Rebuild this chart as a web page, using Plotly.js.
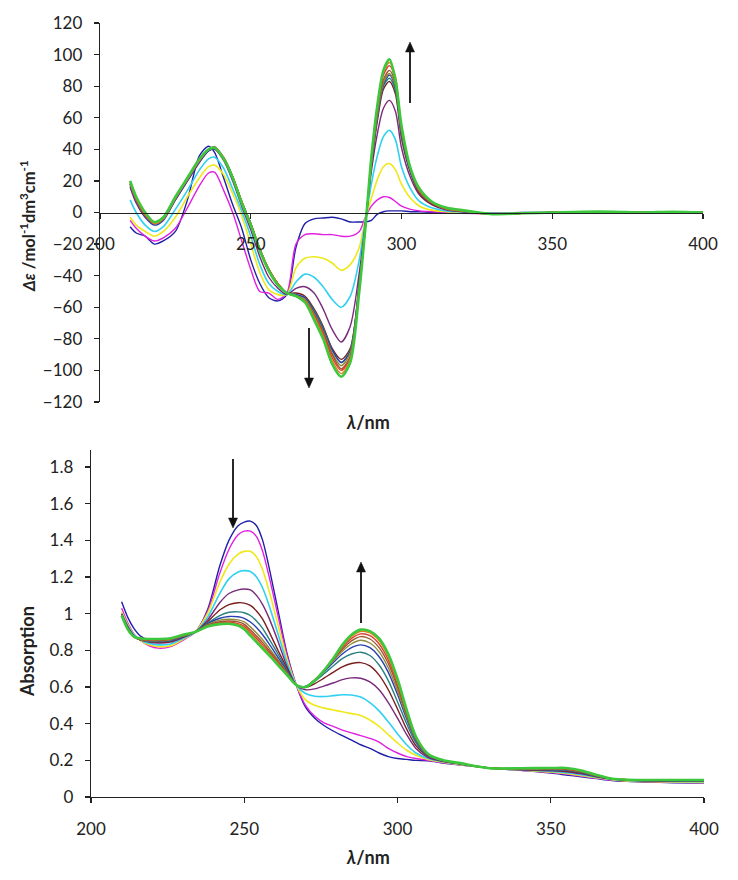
<!DOCTYPE html>
<html>
<head>
<meta charset="utf-8">
<script src="https://cdn.plot.ly/plotly-3.0.1.min.js"></script>
<style>html,body{margin:0;padding:0;background:#fff;}#chart{width:738px;height:880px;}</style>
</head>
<body>
<div id="chart"></div>
<script>
// ---------- CD spectra (top panel) ----------
const cdWavelength = [210,212,215,218,221,225,229,233,236,238,241,244,247,250,253,256,259,262,265,268,271,274,277,280,283,286,288,290,292,294,296,298,300,303,306,310,315,320,330,340,350,360,370,380,390,400];
const cdS1  = [-9,-13,-15,-20,-18,-12,8,36,42,38,22,5,-10,-30,-45,-54,-56,-52,-22,-7,-4,-3.5,-3,-4,-6,-6,-6,-5,-1,0.5,1,1,1,0.5,0.5,0,0,0,-0.5,0,0,0,0,0,0,0];
const cdS2  = [-5,-10,-15,-18,-16,-10,3,17,25,25.5,14,0,-18,-36,-50,-51,-55,-51,-20,-14,-13.5,-14,-14,-15,-15,-12,-3,4,8,10,9.5,7,4,2,1,0.5,0,-0.5,-0.8,-0.3,0,0.3,0.3,0,0.3,0];
const cdS3  = [-3,-8,-12,-15,-12,-3,10,22,29,30,24,12,-2,-20,-38,-49,-52,-52,-35,-29,-28,-29,-32,-36.5,-33,-22,-4,9,21,29,31,27,18,9,4,1.5,0.5,0,-0.8,-0.3,0,0.3,0.3,0,0.3,0];
const cdS4  = [8,0,-8,-12,-9,2,14,27,34,35,28,15,1,-15,-33,-45,-50,-52,-44,-39,-41,-47,-55,-60,-53,-30,-5,18,36,48,52,46,29,15,7,3,1,0.3,-0.8,-0.3,0,0.3,0.3,0,0.3,0];
const cdS5  = [16,6,-3,-7,-4,8,20,32,39,40,33,20,4,-11,-28,-41,-48,-52,-48,-47,-51,-61,-74,-82,-72,-38,-7,26,50,66,71,64,41,22,11,5,1.5,0.5,-1,-0.5,0,0.3,0.3,0,0.3,0];
const cdS6  = [18,8,-2,-7,-4,9,21,33,40,41.5,34.5,22.5,7,-7,-23,-36,-45,-51,-51,-53,-61,-72,-86,-93,-86,-44,-8,29,58,78,83,75,47,25,12,5.5,2,1,-1,-0.5,0,0.3,0.3,0,0.3,0];
const cdS7  = [18,8,-2,-7,-4,9,21,33,40,41,34.5,22.5,7,-7,-23,-36,-45,-51,-52,-54,-62,-73,-87,-95,-87,-45,-9,30,60,80,85,77,49,26,13,6,2,1,-1,-0.5,0,0.3,0.3,0,0.3,0];
const cdS8  = [17,7,-3,-8,-5,8,20,32,39,40.5,34,22,6.5,-7.5,-24,-37,-46,-51,-52,-54,-63,-74,-87,-95,-88,-45,-9,31,61,81,87,79,50,26,13,6,2,1,-1,-0.5,0,0.3,0.3,0,0.3,0];
const cdS9  = [18,8,-2,-7,-4,9,21,33,40,41,34.5,22.5,7,-7,-23,-36,-45,-51,-52.5,-55,-64,-75,-89,-97,-89,-46,-9,31,62,82,88,80,51,27,13,6,2,1,-1,-0.5,0,0.3,0.3,0,0.3,0];
const cdS10 = [19,9,-1,-7,-4,9,21,33,40,41.5,35,23,7,-7,-23,-36,-45,-51,-53,-56,-65,-76,-90,-99,-91,-47,-9,32,64,84,90,82,52,27,13,6,2.5,1,-1,-0.5,0,0.3,0.3,0,0.3,0];
const cdS11 = [18,8,-2,-7,-4,9,21,33,40,41,34.5,22.5,7,-7,-23,-36,-45,-51,-53,-56,-65,-77,-92,-100,-92,-48,-10,33,66,87,93,84,53,28,14,6.5,2.5,1,-1,-0.5,0,0.3,0.3,0,0.3,0];
const cdS12 = [19,9,-1,-7,-4,9,21,33,40,41,34.5,22.5,7,-7,-23,-36,-45,-51,-53,-56,-66,-78,-94,-102,-93,-49,-10,34,68,89,95,86,54,28,14,6.5,2.5,1,-1,-0.5,0,0.5,0.3,0,0.3,0];
const cdS13 = [20,10,0,-6,-3,10,22,34,40,41,34,22,6,-8,-24,-37,-46,-51,-53,-57,-68,-80,-96,-104,-95,-50,-10,35,68,90,97,84,55,28,15,7,3,1.5,-1,-0.5,0,0.5,0.5,0,0.5,0];

// ---------- Absorption spectra (bottom panel) ----------
const absWavelength = [210,212,214,216,219,222,226,230,234,238,242,245,248,250,252,254,256,258,261,264,267,270,273,276,279,282,285,288,291,294,297,300,303,306,310,315,320,330,340,350,355,360,365,370,375,380,390,400];
const absS1  = [1.065,0.98,0.92,0.88,0.855,0.845,0.85,0.87,0.90,1.02,1.26,1.40,1.48,1.50,1.505,1.48,1.40,1.26,1.02,0.78,0.61,0.49,0.43,0.39,0.36,0.335,0.31,0.285,0.265,0.24,0.22,0.21,0.205,0.2,0.198,0.185,0.175,0.158,0.145,0.13,0.12,0.11,0.1,0.09,0.085,0.082,0.078,0.076];
const absS2  = [1.03,0.95,0.89,0.855,0.825,0.812,0.82,0.855,0.90,1.01,1.22,1.35,1.43,1.45,1.45,1.42,1.34,1.21,0.99,0.77,0.61,0.5,0.44,0.405,0.385,0.365,0.35,0.335,0.32,0.30,0.265,0.24,0.22,0.21,0.2,0.186,0.176,0.158,0.146,0.133,0.125,0.114,0.102,0.093,0.087,0.084,0.08,0.078];
const absS3  = [1.01,0.94,0.885,0.855,0.83,0.82,0.825,0.86,0.90,1.0,1.17,1.27,1.325,1.34,1.34,1.31,1.24,1.13,0.94,0.75,0.61,0.53,0.5,0.485,0.475,0.465,0.455,0.445,0.42,0.385,0.34,0.295,0.255,0.228,0.205,0.19,0.178,0.158,0.147,0.136,0.128,0.117,0.105,0.095,0.088,0.085,0.082,0.08];
const absS4  = [1.0,0.935,0.885,0.858,0.838,0.83,0.835,0.865,0.90,0.98,1.11,1.19,1.228,1.235,1.23,1.2,1.14,1.05,0.89,0.73,0.61,0.565,0.55,0.548,0.553,0.558,0.556,0.545,0.515,0.47,0.41,0.345,0.285,0.24,0.21,0.192,0.18,0.158,0.148,0.14,0.133,0.122,0.108,0.097,0.09,0.087,0.085,0.083];
const absS5  = [1.0,0.93,0.88,0.858,0.845,0.84,0.845,0.87,0.90,0.965,1.06,1.11,1.13,1.135,1.13,1.1,1.05,0.98,0.85,0.71,0.61,0.585,0.59,0.605,0.622,0.64,0.65,0.648,0.628,0.585,0.515,0.43,0.34,0.265,0.215,0.194,0.181,0.158,0.149,0.143,0.138,0.126,0.11,0.098,0.091,0.088,0.087,0.085];
const absS6  = [0.995,0.925,0.878,0.858,0.848,0.845,0.85,0.873,0.90,0.955,1.02,1.05,1.06,1.058,1.045,1.015,0.97,0.905,0.8,0.7,0.61,0.598,0.618,0.648,0.68,0.71,0.728,0.733,0.715,0.665,0.585,0.48,0.37,0.28,0.222,0.196,0.182,0.158,0.15,0.146,0.142,0.13,0.112,0.099,0.092,0.089,0.088,0.087];
const absS7  = [0.99,0.92,0.875,0.858,0.85,0.848,0.852,0.875,0.90,0.948,0.99,1.008,1.01,1.005,0.99,0.96,0.92,0.865,0.78,0.69,0.61,0.603,0.632,0.672,0.715,0.755,0.78,0.79,0.772,0.72,0.635,0.52,0.4,0.295,0.224,0.197,0.183,0.158,0.151,0.148,0.145,0.133,0.114,0.1,0.093,0.09,0.089,0.088];
const absS8  = [0.99,0.92,0.875,0.858,0.852,0.85,0.855,0.877,0.90,0.945,0.975,0.985,0.983,0.975,0.955,0.925,0.885,0.838,0.762,0.685,0.61,0.603,0.638,0.683,0.733,0.78,0.815,0.83,0.815,0.765,0.68,0.56,0.425,0.308,0.226,0.198,0.184,0.158,0.152,0.15,0.147,0.135,0.115,0.1,0.094,0.091,0.09,0.089];
const absS9  = [0.99,0.918,0.873,0.858,0.853,0.852,0.858,0.878,0.90,0.94,0.965,0.97,0.966,0.955,0.928,0.895,0.858,0.815,0.748,0.678,0.61,0.602,0.64,0.688,0.742,0.795,0.836,0.855,0.84,0.792,0.705,0.58,0.438,0.315,0.228,0.199,0.184,0.158,0.153,0.152,0.15,0.137,0.116,0.1,0.094,0.092,0.091,0.09];
const absS10 = [0.99,0.917,0.873,0.86,0.855,0.855,0.86,0.88,0.90,0.937,0.956,0.96,0.955,0.942,0.912,0.878,0.842,0.802,0.74,0.675,0.61,0.601,0.64,0.69,0.747,0.806,0.852,0.875,0.862,0.815,0.728,0.6,0.45,0.32,0.23,0.2,0.185,0.158,0.154,0.154,0.152,0.139,0.117,0.1,0.094,0.092,0.092,0.091];
const absS11 = [0.99,0.916,0.873,0.862,0.858,0.858,0.862,0.882,0.90,0.935,0.95,0.953,0.946,0.932,0.9,0.866,0.83,0.792,0.732,0.671,0.61,0.6,0.638,0.69,0.75,0.815,0.865,0.89,0.88,0.835,0.748,0.615,0.46,0.325,0.232,0.2,0.185,0.157,0.155,0.155,0.154,0.141,0.118,0.1,0.094,0.093,0.093,0.092];
const absS12 = [0.99,0.915,0.873,0.864,0.86,0.86,0.864,0.884,0.90,0.933,0.946,0.948,0.94,0.924,0.89,0.855,0.82,0.783,0.726,0.668,0.61,0.6,0.637,0.69,0.752,0.822,0.876,0.903,0.895,0.852,0.765,0.63,0.468,0.33,0.233,0.2,0.186,0.157,0.156,0.156,0.156,0.142,0.119,0.1,0.094,0.093,0.093,0.093];
const absS13 = [0.99,0.915,0.875,0.866,0.862,0.862,0.866,0.885,0.90,0.93,0.943,0.945,0.935,0.915,0.88,0.845,0.81,0.775,0.72,0.665,0.61,0.6,0.635,0.69,0.755,0.83,0.885,0.913,0.905,0.865,0.78,0.645,0.475,0.33,0.235,0.2,0.186,0.157,0.157,0.158,0.158,0.145,0.12,0.1,0.094,0.093,0.093,0.093];

const seriesColors = ['#1f1fa8','#e020e0','#f0e818','#30d0f0','#7a2a7a','#7a1e1e','#2a8080','#2840b0','#8c8c3c','#a0522d','#d84030','#e08020','#3cc83c'];
const seriesWidths = [1.4,1.4,1.6,1.6,1.4,1.4,1.4,1.4,1.4,1.4,1.4,1.4,2.6];
const cdSeries  = [cdS1,cdS2,cdS3,cdS4,cdS5,cdS6,cdS7,cdS8,cdS9,cdS10,cdS11,cdS12,cdS13];
const absSeries = [absS1,absS2,absS3,absS4,absS5,absS6,absS7,absS8,absS9,absS10,absS11,absS12,absS13];

const W = 738, H = 880;
const px = v => v / W;
const py = v => 1 - v / H;

const traces = [];
cdSeries.forEach((s, i) => traces.push({
  x: cdWavelength, y: s, xaxis: 'x', yaxis: 'y', type: 'scatter', mode: 'lines',
  line: {color: seriesColors[i], width: seriesWidths[i], shape: 'spline', smoothing: 0.8},
  hoverinfo: 'skip', showlegend: false
}));
absSeries.forEach((s, i) => traces.push({
  x: absWavelength, y: s, xaxis: 'x2', yaxis: 'y2', type: 'scatter', mode: 'lines',
  line: {color: seriesColors[i], width: seriesWidths[i], shape: 'spline', smoothing: 0.8},
  hoverinfo: 'skip', showlegend: false
}));

const FONT = 'Lato, "Open Sans", sans-serif';
const tickFont = {family: FONT, size: 17, color: '#222'};
const titleFont = {family: FONT, size: 18, color: '#222'};
const topDom = [py(402), py(23)];
const botDom = [py(797), py(450)];

const axisCommon = {
  showline: true, linecolor: '#222', linewidth: 1.3, ticks: 'outside', ticklen: 5,
  tickwidth: 1.2, tickcolor: '#222', showgrid: false, zeroline: false, tickfont: tickFont
};

// arrow helper: shaft line + triangular head, drawn as layout shapes (paper coordinates)
function arrowShapes(x, yTail, yHead) {
  const dir = yHead < yTail ? 1 : -1;
  const headLen = 10, headHalf = 4.5;
  const yBase = yHead + dir * headLen;
  return [
    {type: 'line', xref: 'paper', yref: 'paper', x0: px(x), x1: px(x), y0: py(yTail), y1: py(yBase),
     line: {color: '#111', width: 1.8}},
    {type: 'path', xref: 'paper', yref: 'paper',
     path: `M ${px(x)} ${py(yHead)} L ${px(x - headHalf)} ${py(yBase)} L ${px(x + headHalf)} ${py(yBase)} Z`,
     fillcolor: '#111', line: {color: '#111', width: 0.5}}
  ];
}

const layout = {
  width: W, height: H, margin: {l: 0, r: 0, t: 0, b: 0},
  paper_bgcolor: '#fff', plot_bgcolor: 'rgba(0,0,0,0)', showlegend: false,
  font: {family: FONT, color: '#222'},
  xaxis: Object.assign({}, axisCommon, {
    domain: [px(100), px(703)], range: [200, 400], tick0: 200, dtick: 50,
    anchor: 'free', position: (topDom[0] + topDom[1]) / 2, ticklabelstandoff: 11
  }),
  yaxis: Object.assign({}, axisCommon, {
    domain: topDom, range: [-120, 120], tick0: -120, dtick: 20, anchor: 'x', ticklabelstandoff: 8
  }),
  xaxis2: Object.assign({}, axisCommon, {
    domain: [px(91), px(704)], range: [200, 400], tick0: 200, dtick: 50, anchor: 'y2', ticklabelstandoff: 11
  }),
  yaxis2: Object.assign({}, axisCommon, {
    domain: botDom, range: [0, 1.893], tick0: 0, dtick: 0.2, anchor: 'x2', ticklabelstandoff: 8
  }),
  shapes: [].concat(
    arrowShapes(410, 103, 42),
    arrowShapes(309, 328, 388),
    arrowShapes(233, 459, 528),
    arrowShapes(361, 623, 562)
  ),
  annotations: [
    {text: '<b><i>Δε</i> /mol<sup>-1</sup>dm<sup>3</sup>cm<sup>-1</sup></b>', xref: 'paper', yref: 'paper',
     x: px(28), y: py(226), xanchor: 'center', yanchor: 'middle', textangle: -90, showarrow: false,
     font: {family: FONT, size: 16.5, color: '#222'}},
    {text: '<b><i>λ</i>/nm</b>', xref: 'paper', yref: 'paper', x: px(368), y: py(422),
     xanchor: 'center', yanchor: 'middle', showarrow: false, font: titleFont},
    {text: '<b>Absorption</b>', xref: 'paper', yref: 'paper', x: px(27), y: py(652),
     xanchor: 'center', yanchor: 'middle', textangle: -90, showarrow: false, font: titleFont},
    {text: '<b><i>λ</i>/nm</b>', xref: 'paper', yref: 'paper', x: px(368), y: py(857),
     xanchor: 'center', yanchor: 'middle', showarrow: false, font: titleFont}
  ]
};

Plotly.newPlot('chart', traces, layout, {staticPlot: true, displayModeBar: false});
</script>
</body>
</html>
